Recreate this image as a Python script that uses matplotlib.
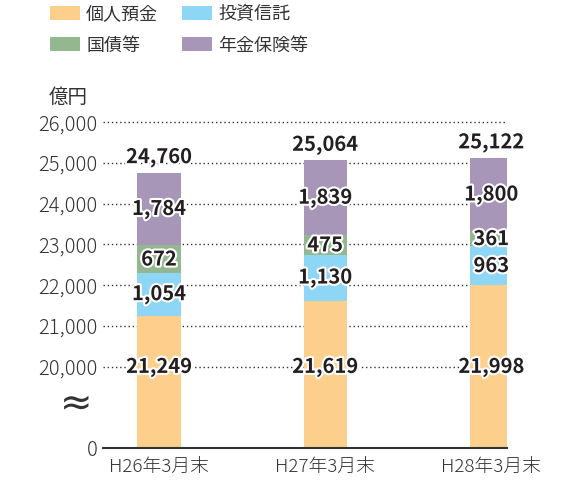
import numpy as np
import matplotlib.pyplot as plt
from matplotlib.patches import Patch
import matplotlib.patheffects as pe
import matplotlib.transforms as mtrans

plt.rcParams['font.family'] = ['Noto Sans CJK JP', 'DejaVu Sans']

categories = ["H26年3月末", "H27年3月末", "H28年3月末"]
series_names = ["個人預金", "投資信託", "国債等", "年金保険等"]
deposits = [21249, 21619, 21998]
trusts = [1054, 1130, 963]
bonds = [672, 475, 361]
insurance = [1784, 1839, 1800]
totals = [24760, 25064, 25122]
tick_values = [0, 20000, 21000, 22000, 23000, 24000, 25000, 26000]

colors = ["#FCCF8D", "#8ED6F5", "#93B890", "#A896B9"]
text_dark = "#231F20"


def fwd(v):
    v = np.asarray(v, dtype=float)
    return np.where(v >= 20000, v - 18000, v / 10)


def inv(y):
    y = np.asarray(y, dtype=float)
    return np.where(y >= 2000, y + 18000, y * 10)


fig = plt.figure(figsize=(5.77, 4.82), dpi=100)
ax = fig.add_axes([0.1785, 0.0705, 0.7005, 0.7015])
ax.set_yscale('function', functions=(fwd, inv))

x = np.arange(len(categories))
width = 0.26
stack = [deposits, trusts, bonds, insurance]
bottom = np.zeros(len(categories))
stroke = [pe.withStroke(linewidth=3, foreground="white")]

for i, (vals, col) in enumerate(zip(stack, colors)):
    vals = np.array(vals, dtype=float)
    ax.bar(x, vals, width, bottom=bottom, color=col, zorder=2)
    for xi, b, v in zip(x, bottom, vals):
        if i == 0:
            ypos = 19900
        else:
            ypos = b + v / 2
        ax.text(xi, ypos, f"{int(v):,}", ha="center", va="center",
                fontsize=14.5, fontweight="bold", color=text_dark,
                path_effects=stroke, zorder=4)
    bottom = bottom + vals

for xi, top, t in zip(x, bottom, totals):
    ax.text(xi, top + 380, f"{t:,}", ha="center", va="center",
            fontsize=14.5, fontweight="bold", color=text_dark,
            path_effects=stroke, zorder=4)

ax.set_xlim(-0.337, 2.096)
ax.set_ylim(0, 26300)
ax.set_yticks(tick_values)
ax.set_yticklabels([f"{v:,}" for v in tick_values], fontsize=14.5,
                   color="#333333", fontweight="light")
ax.set_xticks(x)
ax.set_xticklabels(categories, fontsize=13.5, color="#333333", fontweight="light")
ax.tick_params(axis="both", length=0)
ax.tick_params(axis="y", pad=4)
ax.tick_params(axis="x", pad=7)

ax.set_axisbelow(True)
ax.yaxis.grid(True, linestyle=(0, (1, 2)), color="#333333", linewidth=1)
for s in ["left", "right", "top"]:
    ax.spines[s].set_visible(False)
ax.spines["bottom"].set_color("#333333")
ax.spines["bottom"].set_linewidth(1.5)
ax.spines["bottom"].set_zorder(5)

trans = mtrans.blended_transform_factory(ax.transAxes, ax.transData)
ax.text(-0.067, 11000, "≈", transform=trans, ha="center", va="center",
        fontsize=28, color="#333333", family=["DejaVu Sans"])
ax.text(-0.037, 26600, "億円", transform=trans, ha="right", va="center",
        fontsize=14, color="#333333", clip_on=False)

handles = [Patch(facecolor=c, edgecolor="none") for c in colors]
order = [0, 2, 1, 3]
fig.legend([handles[i] for i in order], [series_names[i] for i in order],
           loc="upper left", bbox_to_anchor=(50 / 577, 1 - 5 / 482), ncol=2,
           frameon=False, fontsize=13, handlelength=1.67, handleheight=0.78,
           handletextpad=0.33, columnspacing=1.33, labelspacing=0.75,
           borderpad=0, borderaxespad=0, labelcolor="#333333")

fig.savefig("out.png", dpi=100)
